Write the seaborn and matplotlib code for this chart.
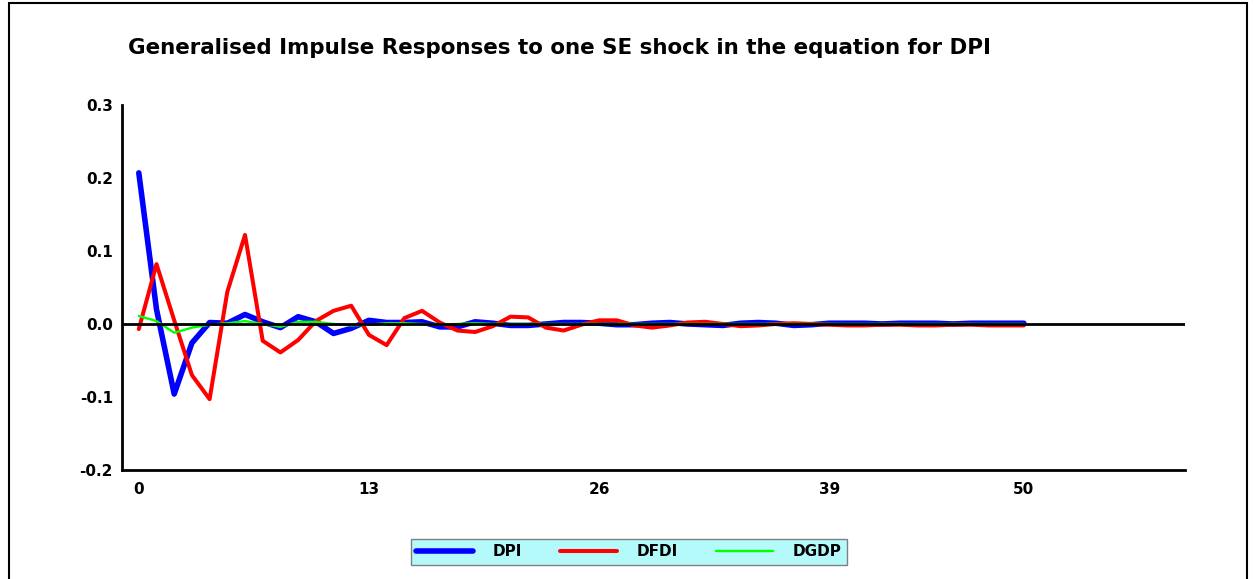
import matplotlib
matplotlib.use('Agg')
import matplotlib.pyplot as plt
import seaborn as sns
import pandas as pd
from matplotlib.ticker import MultipleLocator, FormatStrFormatter

# horizonte e respostas ao impulso
periodos = list(range(51))
dpi = [0.207, 0.020, -0.096, -0.026, 0.002, 0.001, 0.013, 0.003, -0.005, 0.010,
       0.003, -0.013, -0.006, 0.005, 0.002, 0.002, 0.003, -0.004, -0.004, 0.003,
       0.001, -0.002, -0.002, 0.000, 0.002, 0.002, 0.001, -0.001, -0.001, 0.001,
       0.002, 0.000, -0.001, -0.002, 0.001, 0.002, 0.001, -0.002, -0.001, 0.001,
       0.001, 0.001, 0.000, 0.001, 0.001, 0.001, 0.000, 0.001, 0.001, 0.001, 0.001]
dfdi = [-0.007, 0.082, 0.005, -0.070, -0.103, 0.044, 0.122, -0.023, -0.039, -0.022,
        0.004, 0.018, 0.025, -0.015, -0.029, 0.008, 0.018, 0.002, -0.009, -0.011,
        -0.003, 0.010, 0.009, -0.005, -0.009, -0.001, 0.005, 0.005, -0.002, -0.005,
        -0.002, 0.002, 0.003, 0.000, -0.003, -0.002, 0.000, 0.001, 0.000, -0.001,
        -0.002, -0.002, -0.001, -0.001, -0.002, -0.002, -0.001, -0.001, -0.002, -0.002, -0.002]
dgdp = [0.011, 0.004, -0.012, -0.005, -0.001, 0.001, 0.004, 0.000, -0.004, 0.003,
        0.003, 0.000, -0.002, -0.001, 0.001, 0.001, 0.000, -0.001, 0.000, 0.001,
        0.000, 0.000, 0.000, 0.000, 0.000, 0.000, 0.000, 0.000, 0.000, 0.000,
        0.000, 0.000, 0.000, 0.000, 0.000, 0.000, 0.000, 0.000, 0.000, 0.000,
        0.000, 0.000, 0.000, 0.000, 0.000, 0.000, 0.000, 0.000, 0.000, 0.000, 0.000]
series = ['DPI', 'DFDI', 'DGDP']
cores = {'DPI': '#0000ff', 'DFDI': '#ff0000', 'DGDP': '#00ff00'}
larguras = {'DPI': 4.0, 'DFDI': 2.9, 'DGDP': 1.7}

df = pd.DataFrame({'periodo': periodos, 'DPI': dpi, 'DFDI': dfdi, 'DGDP': dgdp})
df_long = df.melt(id_vars='periodo', var_name='serie', value_name='resposta')

sns.set_style('white')
plt.rcParams['font.family'] = ['DejaVu Sans']
plt.rcParams['font.weight'] = 'bold'
plt.rcParams['text.color'] = 'black'
plt.rcParams['xtick.color'] = 'black'
plt.rcParams['ytick.color'] = 'black'
plt.rcParams['xtick.labelcolor'] = 'black'
plt.rcParams['ytick.labelcolor'] = 'black'

fig = plt.figure(figsize=(12.55, 5.79), dpi=100)
ax = fig.add_axes([0.0972, 0.1883, 0.8470, 0.6304])

for s in series:
    sns.lineplot(data=df_long[df_long['serie'] == s], x='periodo', y='resposta',
                 color=cores[s], linewidth=larguras[s], label=s, ax=ax, legend=False)

ax.axhline(0, color='black', linewidth=2, zorder=10)

ax.set_xlim(-0.95, 59.1)
ax.set_ylim(-0.2, 0.3)
ax.set_xticks([0, 13, 26, 39, 50])
ax.yaxis.set_major_locator(MultipleLocator(0.1))
ax.yaxis.set_minor_locator(MultipleLocator(0.05))
ax.yaxis.set_major_formatter(FormatStrFormatter('%.1f'))
ax.tick_params(axis='both', which='both', direction='inout', length=9, width=2,
               color='black', labelcolor='black', labelsize=11)
ax.tick_params(axis='y', pad=2)
ax.tick_params(axis='x', pad=4)
for lab in ax.get_xticklabels() + ax.get_yticklabels():
    lab.set_fontweight('bold')
ax.set_xlabel('')
ax.set_ylabel('')
for lado in ['top', 'right']:
    ax.spines[lado].set_visible(False)
for lado in ['left', 'bottom']:
    ax.spines[lado].set_color('black')
    ax.spines[lado].set_linewidth(2)

fig.text(128 / 1255, 1 - 48 / 579, 'Generalised Impulse Responses to one SE shock in the equation for DPI',
         ha='left', va='center', fontsize=15.4, fontweight='bold', color='black')

handles, labels = ax.get_legend_handles_labels()
leg = fig.legend(handles, labels, loc='center', bbox_to_anchor=(629 / 1255, 1 - 552 / 579),
                 ncol=3, fontsize=11, handlelength=3.7, handletextpad=1.3, columnspacing=2.5,
                 borderpad=0.35, fancybox=False, framealpha=1, facecolor='#b4fafa',
                 edgecolor='#808080')
for t in leg.get_texts():
    t.set_fontweight('bold')
    t.set_color('black')

fig.patches.append(plt.Rectangle((9 / 1255, -0.1), 1238 / 1255, 1.1 - 3 / 579,
                                 transform=fig.transFigure, fill=False,
                                 edgecolor='black', linewidth=1.5))

plt.savefig('out.png', dpi=100)
